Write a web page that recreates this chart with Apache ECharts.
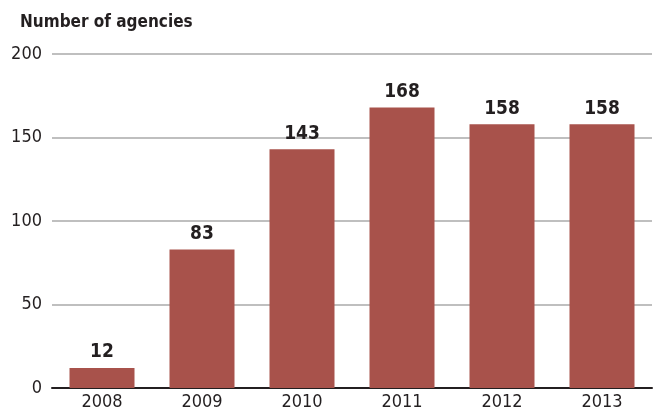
<!DOCTYPE html>
<html><head><meta charset="utf-8">
<script src="https://cdn.jsdelivr.net/npm/echarts@6/dist/echarts.min.js"></script>
<style>html,body{margin:0;padding:0;background:#fff}#c{width:653px;height:414px}</style>
</head><body><div id="c"></div>
<script>
const categories = ['2008','2009','2010','2011','2012','2013'];
const agencies = [12, 83, 143, 168, 158, 158];
const yTicks = [0, 50, 100, 150, 200];
const FONT = '"Liberation Sans Narrow", "DejaVu Sans Condensed", sans-serif';
const chart = echarts.init(document.getElementById('c'));
chart.setOption({
  animation: false,
  title: { text: 'Number of agencies', left: 15, top: 9,
    textStyle: { fontFamily: FONT, fontWeight: 'bold', fontSize: 17, color: '#231f20' } },
  grid: { left: 52, right: 1, top: 54, bottom: 26, containLabel: false },
  xAxis: { type: 'category', data: categories,
    axisLine: { lineStyle: { color: '#231f20', width: 2 } },
    axisTick: { show: false },
    axisLabel: { fontFamily: FONT, fontSize: 18, color: '#231f20', margin: 5 } },
  yAxis: { type: 'value', min: yTicks[0], max: yTicks[yTicks.length-1], interval: 50,
    axisLine: { show: false }, axisTick: { show: false },
    splitLine: { lineStyle: { color: '#aaaaaa', width: 1.5 } },
    axisLabel: { fontFamily: FONT, fontSize: 18, color: '#231f20', margin: 10 } },
  series: [{ type: 'bar', data: agencies, barCategoryGap: '35%',
    itemStyle: { color: '#a8524b' },
    label: { show: true, position: 'top', distance: 6, fontFamily: FONT, fontWeight: 'bold', fontSize: 19, color: '#231f20' } }]
});
</script></body></html>
